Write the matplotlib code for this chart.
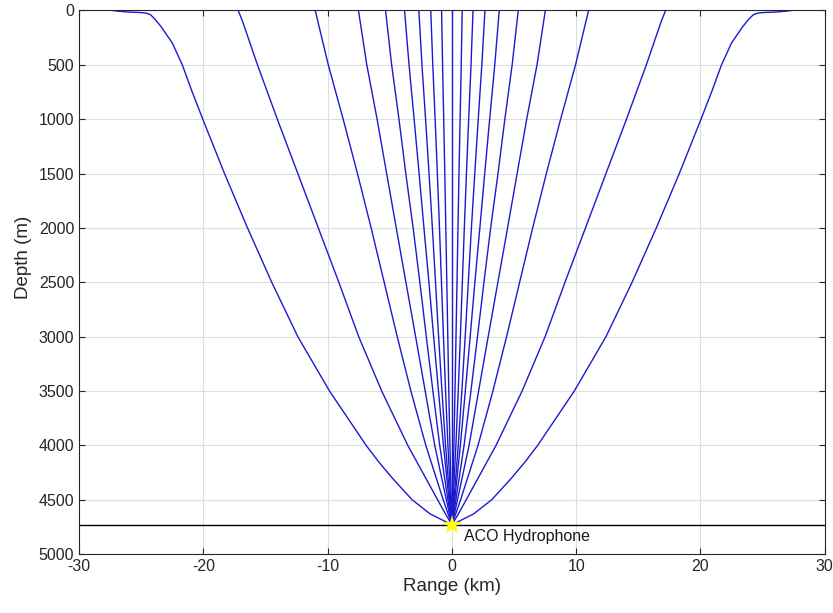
import numpy as np
import matplotlib.pyplot as plt

# ===========================
# Ray data (right half, the left half mirrors it)
# ===========================
depth_m = [0, 500, 1000, 1500, 2000, 2500, 3000, 3500, 4000, 4500, 4730]

# range (km) of the inner rays at the depths above
ray_r1 = [0.83, 0.75, 0.66, 0.57, 0.49, 0.41, 0.33, 0.25, 0.16, 0.05, 0.0]
ray_r2 = [1.70, 1.54, 1.35, 1.17, 1.00, 0.84, 0.68, 0.51, 0.32, 0.10, 0.0]
ray_r3 = [2.66, 2.41, 2.12, 1.84, 1.57, 1.32, 1.07, 0.80, 0.51, 0.17, 0.0]
ray_r4 = [3.81, 3.45, 3.04, 2.64, 2.25, 1.85, 1.47, 1.08, 0.68, 0.23, 0.0]
ray_r5 = [5.34, 4.85, 4.26, 3.71, 3.12, 2.58, 2.06, 1.53, 0.98, 0.32, 0.0]
ray_r6 = [7.52, 6.85, 6.02, 5.25, 4.48, 3.70, 2.92, 2.15, 1.38, 0.45, 0.0]
ray_r7 = [11.0, 9.95, 8.75, 7.60, 6.50, 5.45, 4.40, 3.30, 2.10, 0.70, 0.0]
inner_rays = [ray_r1, ray_r2, ray_r3, ray_r4, ray_r5, ray_r6, ray_r7]

# second-outermost ray
r8_depth_m = [0, 100, 250, 500, 1000, 1500, 2000, 2500, 3000, 3500, 4000, 4250, 4500, 4630, 4730]
r8_range_km = [17.2, 16.85, 16.4, 15.65, 14.05, 12.4, 10.75, 9.1, 7.5, 5.65, 3.55, 2.35, 1.15, 0.52, 0.0]

# outermost ray, with the surface duct near the top
outer_depth_m = [0, 8, 15, 20, 25, 40, 80, 150, 300, 500, 750, 1000, 1500, 2000, 2500,
                 3000, 3500, 4000, 4150, 4300, 4500, 4630, 4730]
outer_range_km = [27.35, 26.8, 26.0, 25.0, 24.6, 24.25, 23.9, 23.4, 22.5, 21.7, 20.9, 20.05,
                  18.3, 16.45, 14.5, 12.4, 9.85, 6.9, 5.9, 4.8, 3.2, 1.75, 0.0]

hydrophone_range = 0.0
hydrophone_depth = 4730

# ===========================
# Plot
# ===========================
plt.rcParams['font.family'] = ['Liberation Sans', 'DejaVu Sans']
plt.rcParams['axes.unicode_minus'] = False
fig = plt.figure(figsize=(8.33, 6.13), dpi=100)
ax = fig.add_axes([0.095, 0.096, 0.895, 0.887])

ray_color = '#1a1ad0'
lw = 1.0
ax.plot([0, 0], [depth_m[0], depth_m[-1]], color=ray_color, lw=lw)
for r in inner_rays:
    r = np.array(r)
    ax.plot(r, depth_m, color=ray_color, lw=lw)
    ax.plot(-r, depth_m, color=ray_color, lw=lw)
for rng, dep in [(r8_range_km, r8_depth_m), (outer_range_km, outer_depth_m)]:
    rng = np.array(rng)
    ax.plot(rng, dep, color=ray_color, lw=lw)
    ax.plot(-rng, dep, color=ray_color, lw=lw)

ax.axhline(hydrophone_depth, color='black', lw=1.0)
ax.plot(hydrophone_range, hydrophone_depth, marker='*', color='#ffff00',
        markersize=15, markeredgewidth=0, zorder=5)
ax.text(hydrophone_range + 1.0, hydrophone_depth + 40, 'ACO Hydrophone',
        fontsize=11.5, va='top', ha='left', color='#1a1a1a')

ax.set_xlim(-30, 30)
ax.set_ylim(5000, 0)
ax.set_xticks(np.arange(-30, 31, 10))
ax.set_yticks(np.arange(0, 5001, 500))
ax.set_xlabel('Range (km)', fontsize=13.5, color='#262626', labelpad=3)
ax.set_ylabel('Depth (m)', fontsize=13.5, color='#262626')
ax.yaxis.set_label_coords(-0.063, 0.545)

ax.grid(True, color='#dedede', lw=0.8)
ax.set_axisbelow(True)
ax.tick_params(direction='in', top=True, right=True, labelsize=11.5,
               colors='#262626', length=4)
for s in ax.spines.values():
    s.set_color('#262626')
    s.set_linewidth(0.8)

fig.savefig('out.png', dpi=100)
